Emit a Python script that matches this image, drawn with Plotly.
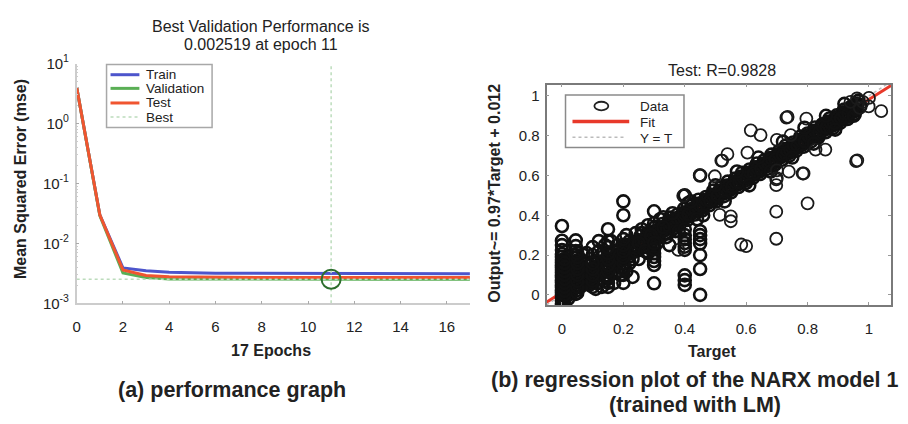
import plotly.graph_objects as go

W, H = 908, 424
FONT = "Liberation Sans, Arial, sans-serif"

# ---------------- (a) training performance ----------------
epochs = list(range(18))
train_mse = [4.0, 0.030, 0.0039, 0.0035, 0.0033, 0.0032, 0.00318, 0.00316, 0.00315, 0.00314,
             0.00313, 0.00312, 0.00312, 0.00311, 0.00311, 0.0031, 0.0031, 0.0031]
val_mse = [4.0, 0.029, 0.0032, 0.0027, 0.00255, 0.00254, 0.00254, 0.00253, 0.00253, 0.00252,
           0.00252, 0.002519, 0.00252, 0.00252, 0.00253, 0.00253, 0.00253, 0.00253]
test_mse = [4.0, 0.030, 0.0036, 0.0029, 0.00276, 0.00273, 0.00272, 0.00271, 0.0027, 0.0027,
            0.0027, 0.0027, 0.0027, 0.0027, 0.0027, 0.0027, 0.0027, 0.0027]
best_epoch = 11
best_val = 0.002519

perf_xticks = [0, 2, 4, 6, 8, 10, 12, 14, 16]
perf_yticks = [1e-3, 1e-2, 1e-1, 1e0, 1e1]
perf_yticklabels = ["10<sup>-3</sup>", "10<sup>-2</sup>", "10<sup>-1</sup>", "10<sup>0</sup>", "10<sup>1</sup>"]

# ---------------- (b) regression on the test set ----------------
# main diagonal band
band_target = [
    0.060, 0.072, 0.083, 0.095, 0.108, 0.119, 0.131, 0.142, 0.156, 0.167, 0.179, 0.191, 0.203,
    0.214, 0.226, 0.238, 0.249, 0.262, 0.274, 0.285, 0.297, 0.309, 0.321, 0.333, 0.344, 0.356,
    0.368, 0.379, 0.391, 0.403, 0.415, 0.427, 0.438, 0.450, 0.462, 0.474, 0.486, 0.497, 0.509,
    0.521, 0.533, 0.545, 0.557, 0.568, 0.580, 0.592, 0.604, 0.616, 0.628, 0.640, 0.651, 0.663,
    0.675, 0.687, 0.699, 0.711, 0.723, 0.734, 0.746, 0.758, 0.770, 0.782, 0.794, 0.806, 0.818,
    0.830, 0.842, 0.853, 0.865, 0.877, 0.889, 0.901, 0.913, 0.925, 0.937, 0.949, 0.960, 0.972,
    0.066, 0.090, 0.114, 0.137, 0.161, 0.185, 0.209, 0.232, 0.256, 0.280, 0.303, 0.327, 0.351,
    0.374, 0.398, 0.422, 0.445, 0.469, 0.493, 0.516, 0.540, 0.564, 0.587, 0.611, 0.635, 0.658,
    0.682, 0.706, 0.729, 0.753, 0.777, 0.800, 0.824, 0.848, 0.871, 0.895, 0.919, 0.942, 0.966,
    0.078, 0.102, 0.125, 0.149, 0.173, 0.196, 0.220, 0.244, 0.267, 0.291, 0.315, 0.338, 0.362,
    0.386, 0.409, 0.433, 0.457, 0.480, 0.504, 0.528, 0.551, 0.575, 0.599, 0.622, 0.646, 0.670,
    0.693, 0.717, 0.741, 0.764, 0.788, 0.812, 0.835, 0.859, 0.883, 0.906, 0.930, 0.954,
    0.063, 0.087, 0.110, 0.134, 0.158, 0.181, 0.205, 0.229, 0.252, 0.276, 0.300, 0.323, 0.347,
    0.371, 0.394, 0.418, 0.442, 0.465, 0.489, 0.513, 0.536, 0.560, 0.584, 0.607, 0.631, 0.655,
    0.678, 0.702, 0.726, 0.749, 0.773, 0.797, 0.820, 0.844, 0.868, 0.891, 0.915, 0.939, 0.962,
    0.075, 0.099, 0.122, 0.146, 0.170, 0.193, 0.217, 0.241, 0.264, 0.288, 0.312, 0.335, 0.359,
    0.383, 0.406, 0.430, 0.454, 0.477, 0.501, 0.525, 0.548, 0.572, 0.596, 0.619, 0.643, 0.667,
    0.690, 0.714, 0.738, 0.761, 0.785, 0.809, 0.832, 0.856, 0.880, 0.903, 0.927, 0.951,
    0.069, 0.093, 0.116, 0.140, 0.164, 0.187, 0.211, 0.235, 0.258, 0.282, 0.306, 0.329, 0.353,
    0.377, 0.400, 0.424, 0.448, 0.471, 0.495, 0.519, 0.542, 0.566, 0.590, 0.613, 0.637, 0.661,
    0.684, 0.708, 0.732, 0.755, 0.779, 0.803, 0.826, 0.850, 0.874, 0.897, 0.921, 0.945,
    0.081, 0.105, 0.128, 0.152, 0.176, 0.199, 0.223, 0.247, 0.270, 0.294, 0.318, 0.341, 0.365,
    0.389, 0.412, 0.436, 0.460, 0.483, 0.507, 0.531, 0.554, 0.578, 0.602, 0.625, 0.649, 0.673,
    0.696, 0.720, 0.744, 0.767, 0.791, 0.815, 0.838, 0.862, 0.886, 0.909, 0.933, 0.957,
]
band_output = [
    0.075, 0.079, 0.101, 0.098, 0.125, 0.120, 0.146, 0.143, 0.171, 0.168, 0.192, 0.190, 0.216,
    0.214, 0.238, 0.237, 0.261, 0.259, 0.284, 0.282, 0.306, 0.305, 0.330, 0.328, 0.352, 0.351,
    0.375, 0.373, 0.398, 0.396, 0.421, 0.420, 0.444, 0.442, 0.467, 0.465, 0.490, 0.488, 0.513,
    0.511, 0.536, 0.534, 0.559, 0.556, 0.582, 0.580, 0.605, 0.603, 0.628, 0.626, 0.650, 0.648,
    0.674, 0.671, 0.697, 0.695, 0.720, 0.717, 0.743, 0.740, 0.766, 0.764, 0.789, 0.787, 0.812,
    0.810, 0.836, 0.832, 0.858, 0.856, 0.881, 0.879, 0.905, 0.902, 0.928, 0.926, 0.950, 0.948,
    0.112, 0.128, 0.158, 0.172, 0.205, 0.219, 0.251, 0.265, 0.296, 0.311, 0.341, 0.356, 0.388,
    0.401, 0.433, 0.447, 0.478, 0.492, 0.524, 0.538, 0.569, 0.584, 0.614, 0.630, 0.660, 0.675,
    0.705, 0.721, 0.750, 0.766, 0.796, 0.811, 0.841, 0.857, 0.886, 0.902, 0.931, 0.946, 0.976,
    0.055, 0.083, 0.101, 0.129, 0.148, 0.175, 0.193, 0.221, 0.240, 0.266, 0.286, 0.312, 0.332,
    0.358, 0.377, 0.404, 0.424, 0.450, 0.470, 0.496, 0.515, 0.542, 0.562, 0.588, 0.608, 0.634,
    0.653, 0.679, 0.700, 0.725, 0.745, 0.771, 0.791, 0.817, 0.838, 0.864, 0.884, 0.910,
    0.090, 0.108, 0.136, 0.155, 0.182, 0.201, 0.228, 0.247, 0.273, 0.293, 0.320, 0.338, 0.366,
    0.385, 0.411, 0.430, 0.458, 0.476, 0.503, 0.523, 0.549, 0.568, 0.595, 0.614, 0.641, 0.660,
    0.687, 0.706, 0.733, 0.752, 0.779, 0.798, 0.824, 0.844, 0.871, 0.889, 0.917, 0.936, 0.962,
    0.068, 0.095, 0.113, 0.141, 0.160, 0.186, 0.205, 0.233, 0.251, 0.278, 0.298, 0.324, 0.343,
    0.371, 0.389, 0.416, 0.435, 0.462, 0.481, 0.508, 0.527, 0.554, 0.573, 0.599, 0.619, 0.646,
    0.664, 0.692, 0.711, 0.737, 0.756, 0.784, 0.802, 0.829, 0.849, 0.875, 0.894, 0.921,
    0.086, 0.109, 0.132, 0.155, 0.178, 0.200, 0.224, 0.247, 0.269, 0.293, 0.316, 0.338, 0.361,
    0.385, 0.407, 0.430, 0.454, 0.476, 0.499, 0.522, 0.545, 0.568, 0.591, 0.614, 0.637, 0.660,
    0.683, 0.706, 0.729, 0.751, 0.775, 0.798, 0.820, 0.844, 0.867, 0.889, 0.912, 0.936,
    0.084, 0.107, 0.129, 0.152, 0.176, 0.198, 0.221, 0.245, 0.267, 0.290, 0.313, 0.336, 0.359,
    0.382, 0.405, 0.428, 0.451, 0.473, 0.497, 0.520, 0.542, 0.566, 0.589, 0.611, 0.634, 0.658,
    0.680, 0.703, 0.727, 0.749, 0.772, 0.796, 0.818, 0.841, 0.864, 0.887, 0.910, 0.933,
]

# wider scatter around the band
spread_target = [
    0.33, 0.37, 0.41, 0.46, 0.50, 0.53, 0.57, 0.61, 0.64, 0.68, 0.72, 0.75, 0.79, 0.82, 0.86,
    0.89, 0.92, 0.95, 0.26, 0.29,
    0.08, 0.10, 0.12, 0.09, 0.12, 0.15, 0.16, 0.14, 0.18, 0.20, 0.21, 0.24, 0.26, 0.11, 0.15,
    0.06, 0.07, 0.13, 0.17, 0.22, 0.25, 0.28, 0.30, 0.32, 0.34, 0.36, 0.38, 0.42, 0.44, 0.35,
    0.30, 0.28,
    0.06, 0.07, 0.08, 0.09, 0.10, 0.11, 0.12, 0.13, 0.14, 0.15, 0.16, 0.17, 0.18, 0.19, 0.20,
    0.21, 0.22, 0.23, 0.24, 0.25, 0.27, 0.29, 0.31, 0.33, 0.06, 0.08, 0.10, 0.12, 0.13, 0.17,
    0.19, 0.23,
]
spread_output = [
    0.39, 0.32, 0.46, 0.40, 0.55, 0.47, 0.62, 0.55, 0.69, 0.62, 0.77, 0.69, 0.84, 0.76, 0.90,
    0.83, 0.96, 0.90, 0.31, 0.23,
    0.16, 0.20, 0.22, 0.05, 0.06, 0.08, 0.27, 0.25, 0.12, 0.14, 0.30, 0.31, 0.33, 0.03, 0.04,
    0.13, 0.20, 0.19, 0.22, 0.16, 0.18, 0.21, 0.36, 0.38, 0.29, 0.41, 0.32, 0.47, 0.38, 0.25,
    0.24, 0.35,
    0.04, 0.09, 0.12, 0.15, 0.06, 0.17, 0.10, 0.14, 0.07, 0.20, 0.11, 0.15, 0.25, 0.10, 0.24,
    0.12, 0.27, 0.18, 0.22, 0.26, 0.22, 0.30, 0.26, 0.34, 0.18, 0.21, 0.24, 0.27, 0.04, 0.06,
    0.18, 0.09,
]

# stacked samples at repeated target levels
column_target = (
    [0.0] * 24 + [0.045] * 17 + [0.02] * 7 + [0.03] * 4 + [0.10] * 5 + [0.15] * 9
    + [0.20] * 10 + [0.30] * 8 + [0.40] * 10 + [0.45] * 8 + [0.008] * 12 + [0.05] * 8
)
column_output = [
    -0.045, -0.03, -0.015, 0.0, 0.012, 0.025, 0.038, 0.05, 0.062, 0.075, 0.088, 0.10,
    0.112, 0.125, 0.138, 0.15, 0.162, 0.175, 0.19, 0.205, 0.225, 0.25, 0.272, 0.346,
    0.005, 0.02, 0.035, 0.05, 0.065, 0.08, 0.095, 0.11, 0.125, 0.14, 0.155, 0.17,
    0.185, 0.20, 0.22, 0.245, 0.274,
    -0.02, 0.0, 0.02, 0.04, 0.06, 0.08, 0.10,
    0.01, 0.05, 0.09, 0.13,
    0.04, 0.07, 0.10, 0.13, 0.16,
    0.06, 0.09, 0.12, 0.15, 0.18, 0.21, 0.24, 0.27, 0.33,
    0.06, 0.10, 0.13, 0.16, 0.19, 0.22, 0.25, 0.28, 0.40, 0.47,
    0.058, 0.15, 0.17, 0.19, 0.21, 0.23, 0.26, 0.42,
    0.05, 0.074, 0.098, 0.226, 0.242, 0.26, 0.28, 0.30, 0.33, 0.50,
    0.0, 0.13, 0.20, 0.258, 0.28, 0.30, 0.32, 0.60,
    -0.04, -0.02, 0.0, 0.02, 0.04, 0.06, 0.08, 0.10, 0.12, 0.14, 0.16, 0.18,
    0.01, 0.04, 0.07, 0.10, 0.13, 0.16, 0.19, 0.21,
]

# isolated outliers
outlier_target = [
    0.958, 0.962, 0.784, 0.698, 0.698, 0.80, 0.698, 0.698, 0.584, 0.60, 0.55, 0.55, 0.514,
    0.449, 0.498, 0.519, 0.395, 0.379, 1.04, 0.999, 0.961, 0.731, 0.735, 0.796, 0.615, 0.647,
    0.70, 0.745, 0.539, 0.522, 0.604, 0.70, 0.70, 0.739, 0.787, 0.826, 0.858, 0.98, 1.0, 0.97,
    0.94,
]
outlier_output = [
    0.672, 0.676, 0.61, 0.551, 0.58, 0.46, 0.418, 0.282, 0.253, 0.245, 0.394, 0.37, 0.402,
    0.602, 0.596, 0.675, 0.498, 0.226, 0.923, 0.947, 0.987, 0.891, 0.894, 0.886, 0.827, 0.803,
    0.779, 0.803, 0.707, 0.675, 0.715, 0.626, 0.587, 0.619, 0.61, 0.73, 0.73, 0.97, 0.99, 0.94,
    0.97,
]

fit_slope = 0.97
fit_intercept = 0.012
reg_limits_x = [-0.05, 1.072]
reg_limits_y = [-0.052, 1.057]
reg_ticks = [0, 0.2, 0.4, 0.6, 0.8, 1]
reg_ticklabels = ["0", "0.2", "0.4", "0.6", "0.8", "1"]

C_TRAIN = "#4d55cc"
C_VAL = "#5aaf55"
C_TEST = "#f05530"
C_BEST = "#bcdcbc"
C_FIT = "#e8392a"


def px(x):
    return x / W


def py(y):
    return 1 - y / H


fig = go.Figure()

# performance curves
for name, ys, col in [("Train", train_mse, C_TRAIN), ("Validation", val_mse, C_VAL), ("Test", test_mse, C_TEST)]:
    fig.add_trace(go.Scatter(x=epochs, y=ys, mode="lines", name=name,
                             line=dict(color=col, width=3), xaxis="x", yaxis="y"))

# best-epoch guides
fig.add_trace(go.Scatter(x=[best_epoch, best_epoch], y=[perf_yticks[0], perf_yticks[-1]], mode="lines",
                         line=dict(color=C_BEST, width=1.5, dash="dot"), xaxis="x", yaxis="y"))
fig.add_trace(go.Scatter(x=[epochs[0], epochs[-1]], y=[best_val, best_val], mode="lines",
                         line=dict(color=C_BEST, width=1.5, dash="dot"), xaxis="x", yaxis="y"))
fig.add_trace(go.Scatter(x=[best_epoch], y=[best_val], mode="markers",
                         marker=dict(symbol="circle-open", size=19, color="#2d6e2d", line=dict(width=2)),
                         xaxis="x", yaxis="y"))

# regression: fit and identity lines, then data
fig.add_trace(go.Scatter(x=reg_limits_x, y=[fit_slope * v + fit_intercept for v in reg_limits_x],
                         mode="lines", line=dict(color=C_FIT, width=3), xaxis="x2", yaxis="y2"))
fig.add_trace(go.Scatter(x=reg_limits_x, y=reg_limits_x, mode="lines",
                         line=dict(color="#bbbbbb", width=1.5, dash="dot"), xaxis="x2", yaxis="y2"))
dense_target = band_target + spread_target + column_target
dense_output = band_output + spread_output + column_output
fig.add_trace(go.Scatter(x=dense_target, y=dense_output, mode="markers",
                         marker=dict(symbol="circle-open", size=12, color="#111111",
                                     line=dict(width=2.6)),
                         xaxis="x2", yaxis="y2"))
fig.add_trace(go.Scatter(x=outlier_target, y=outlier_output, mode="markers",
                         marker=dict(symbol="circle-open", size=12, color="#1a1a1a",
                                     line=dict(width=1.8)),
                         xaxis="x2", yaxis="y2"))

tickfont = dict(family=FONT, size=15, color="#222")

fig.update_layout(
    width=W, height=H, margin=dict(l=0, r=0, t=0, b=0),
    paper_bgcolor="white", plot_bgcolor="white", showlegend=False,
    font=dict(family=FONT, color="#222"),
    xaxis=dict(domain=[px(73), px(468)], range=[0, 17], tickvals=perf_xticks,
               ticktext=[str(v) for v in perf_xticks], ticks="inside", ticklen=3,
               tickcolor="#aaaaaa", showline=True, linecolor="#cccccc", linewidth=1.5,
               showgrid=False, zeroline=False, tickfont=tickfont, anchor="y",
               ticklabelstandoff=9),
    yaxis=dict(domain=[py(306), py(55)], type="log", range=[-3, 1], tickvals=perf_yticks,
               ticktext=perf_yticklabels, ticks="inside", ticklen=3, tickcolor="#aaaaaa",
               minor=dict(ticks="inside", ticklen=2, tickcolor="#cccccc", dtick="D1", showgrid=False),
               showline=True, linecolor="#cccccc", linewidth=1.5, showgrid=False,
               zeroline=False, tickfont=tickfont, anchor="x", ticklabelstandoff=3),
    xaxis2=dict(domain=[px(545), px(891)], range=reg_limits_x, tickvals=reg_ticks,
                ticktext=reg_ticklabels, ticks="inside", ticklen=3, tickcolor="#999999",
                showline=True, mirror="ticks", linecolor="#7a7a7a", linewidth=1.8,
                showgrid=False, zeroline=False, tickfont=tickfont, anchor="y2",
                ticklabelstandoff=9),
    yaxis2=dict(domain=[py(308), py(77)], range=reg_limits_y, tickvals=reg_ticks,
                ticktext=reg_ticklabels, ticks="inside", ticklen=3, tickcolor="#999999",
                showline=True, mirror="ticks", linecolor="#7a7a7a", linewidth=1.8,
                showgrid=False, zeroline=False, tickfont=tickfont, anchor="x2",
                ticklabelstandoff=2),
)

shapes = []
ann = []


def text(x, y, s, size, bold=False, angle=0, anchor="center", color="#222"):
    ann.append(dict(x=px(x), y=py(y), xref="paper", yref="paper", text=f"<b>{s}</b>" if bold else s,
                    showarrow=False, xanchor=anchor, yanchor="middle", textangle=angle,
                    font=dict(family=FONT, size=size, color=color)))


def hline(x0, x1, y, color, width, dash="solid"):
    shapes.append(dict(type="line", xref="paper", yref="paper", x0=px(x0), x1=px(x1), y0=py(y), y1=py(y),
                       line=dict(color=color, width=width, dash=dash)))


# legend of (a)
shapes.append(dict(type="rect", xref="paper", yref="paper", x0=px(103), x1=px(209), y0=py(122), y1=py(56),
                   line=dict(color="#a8a8a8", width=1.5), fillcolor="white"))
for yy, name, col, w, dash in [(66.7, "Train", C_TRAIN, 3, "solid"), (81, "Validation", C_VAL, 3, "solid"),
                               (96.3, "Test", C_TEST, 3, "solid"), (111, "Best", C_BEST, 1.5, "dot")]:
    hline(107, 136, yy, col, w, dash)
    text(140.5, yy, name, 13.5, anchor="left")

# legend of (b)
shapes.append(dict(type="rect", xref="paper", yref="paper", x0=px(564), x1=px(683), y0=py(143), y1=py(88),
                   line=dict(color="#8a8a8a", width=1.5), fillcolor="white"))
shapes.append(dict(type="circle", xref="paper", yref="paper", x0=px(593), x1=px(607), y0=py(104), y1=py(95),
                   line=dict(color="#222", width=1.8)))
hline(571, 628, 115.7, C_FIT, 3.5)
hline(571, 625, 132.3, "#bbbbbb", 1.5, "dot")
text(636.5, 100, "Data", 13.5, anchor="left")
text(636.5, 117, "Fit", 13.5, anchor="left")
text(636.5, 134, "Y = T", 13.5, anchor="left")

# titles and axis labels
text(258.5, 16.5, "Best Validation Performance is", 16)
text(258.5, 35.5, "0.002519 at epoch 11", 16)
text(721.5, 62, "Test: R=0.9828", 16)
text(16, 176, "Mean Squared Error (mse)", 16, bold=True, angle=-90)
text(493, 190.5, "Output~= 0.97*Target + 0.012", 16, bold=True, angle=-90)
text(268, 355, "17 Epochs", 16, bold=True)
text(711, 356, "Target", 16, bold=True)

# panel captions
text(229.5, 397, "(a) performance graph", 21.5, bold=True)
text(694, 386, "(b) regression plot of the NARX model 1", 21.5, bold=True)
text(694, 413, "(trained with LM)", 21.5, bold=True)

fig.update_layout(shapes=shapes, annotations=ann)
fig.write_html("out.html")
